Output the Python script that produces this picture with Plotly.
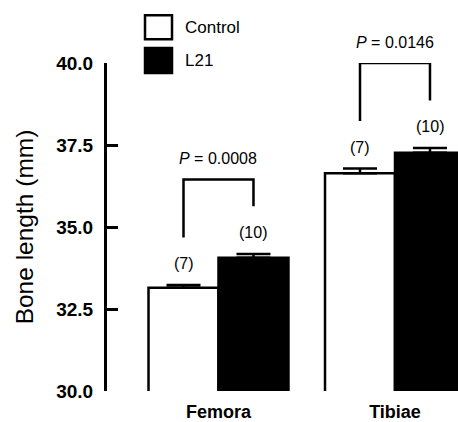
import plotly.graph_objects as go

# ---- data ----
categories = ["Femora", "Tibiae"]
series_names = ["Control", "L21"]
control_mean = [33.15, 36.64]
control_sem = [0.08, 0.14]
l21_mean = [34.06, 37.26]
l21_sem = [0.12, 0.15]
control_n = ["(7)", "(7)"]
l21_n = ["(10)", "(10)"]
p_values = ["0.0008", "0.0146"]
y_ticks = [30.0, 32.5, 35.0, 37.5, 40.0]

# ---- layout constants ----
FONT = "Liberation Sans, Arial, Helvetica, sans-serif"
x_pos = list(range(len(categories)))
bargap = 0.207
half = (1 - bargap) / 4.0  # offset of each bar center from the category center
bracket_top = [36.45, 40.0]
leg_gap = 1.45
n_gap = 0.65

fig = go.Figure()
fig.add_trace(go.Bar(
    x=x_pos, y=control_mean, name=series_names[0],
    marker=dict(color="white", line=dict(color="black", width=2.5)),
    error_y=dict(type="data", array=control_sem, arrayminus=[0] * len(control_sem),
                 symmetric=False, color="black", thickness=2.5, width=17),
    showlegend=False,
))
fig.add_trace(go.Bar(
    x=x_pos, y=l21_mean, name=series_names[1],
    marker=dict(color="black", line=dict(color="black", width=2.5)),
    error_y=dict(type="data", array=l21_sem, arrayminus=[0] * len(l21_sem),
                 symmetric=False, color="black", thickness=2.5, width=17),
    showlegend=False,
))

shapes = []
annotations = []
for i, x in enumerate(x_pos):
    xc, xl = x - half, x + half
    top_c = control_mean[i] + control_sem[i]
    top_l = l21_mean[i] + l21_sem[i]
    # bracket
    shapes.append(dict(type="path", xref="x", yref="y",
                       path=f"M {xc} {top_c + leg_gap} L {xc} {bracket_top[i]} L {xl} {bracket_top[i]} L {xl} {top_l + leg_gap}",
                       line=dict(color="black", width=2.5)))
    annotations.append(dict(x=x, y=bracket_top[i], xref="x", yref="y",
                            text=f"<i>P</i> = {p_values[i]}", showarrow=False,
                            font=dict(family=FONT, size=16, color="black"),
                            xanchor="center", yanchor="middle", yshift=21))
    annotations.append(dict(x=xc, y=top_c + n_gap, xref="x", yref="y",
                            text=control_n[i], showarrow=False,
                            font=dict(family=FONT, size=16, color="black"),
                            xanchor="center", yanchor="middle"))
    annotations.append(dict(x=xl, y=top_l + n_gap, xref="x", yref="y",
                            text=l21_n[i], showarrow=False,
                            font=dict(family=FONT, size=16, color="black"),
                            xanchor="center", yanchor="middle"))

# manual legend
legend_colors = ["white", "black"]
legend_y = [(1.0727, 1.1455), (0.9697, 1.0455)]
for name, col, (y0, y1) in zip(series_names, legend_colors, legend_y):
    shapes.append(dict(type="rect", xref="paper", yref="paper",
                       x0=0.1083, x1=0.1852, y0=y0, y1=y1,
                       fillcolor=col, line=dict(color="black", width=2.5)))
    annotations.append(dict(x=0.2165, y=(y0 + y1) / 2, xref="paper", yref="paper",
                            text=name, showarrow=False, xanchor="left", yanchor="middle",
                            font=dict(family=FONT, size=17, color="black")))

fig.update_layout(
    width=458, height=422,
    margin=dict(l=107, r=0, t=63, b=29),
    paper_bgcolor="white", plot_bgcolor="white",
    barmode="group", bargap=bargap, bargroupgap=0,
    shapes=shapes, annotations=annotations,
    xaxis=dict(range=[-0.6317, 1.357], tickvals=x_pos, ticktext=[f"<b>{c}</b>" for c in categories],
               showline=False, showgrid=False, zeroline=False, ticks="",
               ticklabelstandoff=8,
               tickfont=dict(family=FONT, size=18, color="black")),
    yaxis=dict(range=[30, 40], tickvals=y_ticks, ticktext=[f"<b>{v:.1f}</b>" for v in y_ticks],
               showline=True, linecolor="black", linewidth=3,
               ticks="inside", ticklen=11, tickwidth=3, tickcolor="black",
               ticklabelstandoff=7,
               showgrid=False, zeroline=False,
               tickfont=dict(family=FONT, size=19, color="black"),
               title=dict(text="Bone length (mm)", font=dict(family=FONT, size=24.5, color="black"),
                          standoff=16)),
)

fig.write_html("out.html", config={"displayModeBar": False},
               post_script="document.body.style.margin='0';document.body.style.overflow='hidden';")
